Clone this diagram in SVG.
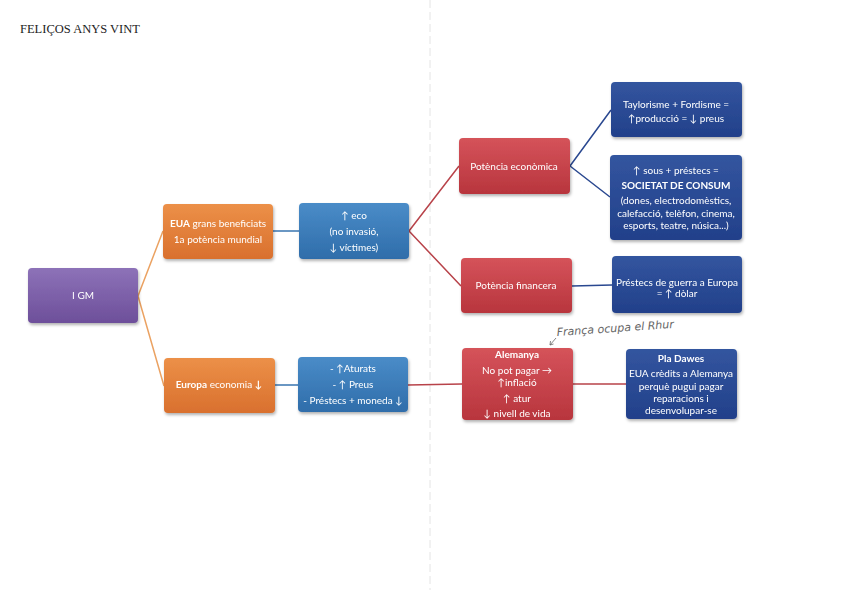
<svg xmlns="http://www.w3.org/2000/svg" width="848" height="590" viewBox="0 0 848 590">
<defs>
<linearGradient id="gPur" x1="0" y1="0" x2="0" y2="1"><stop offset="0" stop-color="#8d72b8"/><stop offset="1" stop-color="#6d4f9a"/></linearGradient>
<linearGradient id="gOr" x1="0" y1="0" x2="0" y2="1"><stop offset="0" stop-color="#ec9048"/><stop offset="1" stop-color="#d9702e"/></linearGradient>
<linearGradient id="gBl" x1="0" y1="0" x2="0" y2="1"><stop offset="0" stop-color="#4a8cc8"/><stop offset="1" stop-color="#2f6daa"/></linearGradient>
<linearGradient id="gRd" x1="0" y1="0" x2="0" y2="1"><stop offset="0" stop-color="#d5535a"/><stop offset="1" stop-color="#b8353d"/></linearGradient>
<linearGradient id="gDb" x1="0" y1="0" x2="0" y2="1"><stop offset="0" stop-color="#33559f"/><stop offset="1" stop-color="#22408a"/></linearGradient>
<filter id="sh" x="-10%" y="-10%" width="125%" height="135%"><feDropShadow dx="1" dy="2" stdDeviation="1.5" flood-color="#000" flood-opacity="0.3"/></filter>
</defs>
<style>
.n{filter:url(#sh)}
.t{font-family:Lato,"Open Sans","DejaVu Sans",sans-serif;font-size:10px;fill:#fff;text-anchor:middle}
.b{font-weight:bold}
.c{fill:none;stroke-width:1.5}
.co{stroke:#eba262}.cb{stroke:#3a76b0}.cr{stroke:#b8434a}.cd{stroke:#2a4890}
.title{font-family:"Liberation Serif",serif;font-size:12.5px;fill:#222}
.hw{font-family:"DejaVu Sans",sans-serif;font-size:11px;font-style:italic;fill:#666;font-weight:300}
</style>
<rect width="848" height="590" fill="#fff"/>
<line x1="430" y1="0" x2="430" y2="590" stroke="#e4e4e4" stroke-width="1" stroke-dasharray="8 4"/>
<text class="title" x="20" y="33">FELIÇOS ANYS VINT</text>

<g id="connectors">
<path class="c co" d="M138,296 L163,231 M138,296 L164,386"/>
<path class="c cb" d="M273,231 L299,231 M275,385 L298,385"/>
<path class="c cr" d="M409,231 L459,166 M409,231 L461,286 M408,385 L462,384 M573,384 L626,384"/>
<path class="c cd" d="M570,166 L611,110 M570,166 L610,197 M572,286 L612,285"/>
</g>

<g id="igm" class="n"><rect x="28" y="268" width="110" height="55" rx="4" fill="url(#gPur)"/>
<text class="t" x="83" y="299">I GM</text></g>

<g id="eua" class="n"><rect x="163" y="204" width="110" height="55" rx="4" fill="url(#gOr)"/>
<text class="t" x="218" y="227"><tspan class="b">EUA</tspan> grans beneficiats</text>
<text class="t" x="218" y="243">1a potència mundial</text></g>

<g id="europa" class="n"><rect x="164" y="358" width="111" height="55" rx="4" fill="url(#gOr)"/>
<text class="t" x="219" y="388"><tspan class="b">Europa</tspan>  economia <tspan class="b">↓</tspan></text></g>

<g id="eco" class="n"><rect x="299" y="203" width="110" height="56" rx="4" fill="url(#gBl)"/>
<text class="t" x="354" y="219">↑ eco</text>
<text class="t" x="354" y="235">(no invasió,</text>
<text class="t" x="354" y="251">↓ víctimes)</text></g>

<g id="aturats" class="n"><rect x="298" y="357" width="110" height="55" rx="4" fill="url(#gBl)"/>
<text class="t" x="353" y="372">- ↑Aturats</text>
<text class="t" x="353" y="388">- ↑ Preus</text>
<text class="t" x="353" y="404">- Préstecs + moneda ↓</text></g>

<g id="pot-eco" class="n"><rect x="459" y="138" width="111" height="56" rx="4" fill="url(#gRd)"/>
<text class="t" x="514" y="170">Potència econòmica</text></g>

<g id="pot-fin" class="n"><rect x="461" y="258" width="111" height="55" rx="4" fill="url(#gRd)"/>
<text class="t" x="516" y="289">Potència financera</text></g>

<g id="alemanya" class="n"><rect x="462" y="348" width="111" height="72" rx="4" fill="url(#gRd)"/>
<text class="t b" x="517" y="358">Alemanya</text>
<text class="t" x="517" y="374">No pot pagar →</text>
<text class="t" x="517" y="386">↑inflació</text>
<text class="t" x="517" y="402">↑ atur</text>
<text class="t" x="517" y="417">↓ nivell de vida</text></g>

<g id="dawes" class="n"><rect x="626" y="349" width="111" height="70" rx="4" fill="url(#gDb)"/>
<text class="t b" x="681" y="362">Pla Dawes</text>
<text class="t" x="681" y="377">EUA crèdits a Alemanya</text>
<text class="t" x="681" y="390">perquè pugui pagar</text>
<text class="t" x="681" y="402">reparacions i</text>
<text class="t" x="681" y="414">desenvolupar-se</text></g>

<g id="taylor" class="n"><rect x="611" y="82" width="131" height="55" rx="4" fill="url(#gDb)"/>
<text class="t" x="676" y="108">Taylorisme + Fordisme =</text>
<text class="t" x="676" y="122">↑producció  = ↓ preus</text></g>

<g id="consum" class="n"><rect x="610" y="155" width="132" height="85" rx="4" fill="url(#gDb)"/>
<text class="t" x="676" y="174">↑ sous + préstecs =</text>
<text class="t b" x="676" y="189">SOCIETAT DE CONSUM</text>
<text class="t" x="676" y="204">(dones, electrodomèstics,</text>
<text class="t" x="676" y="217">calefacció, telèfon, cinema,</text>
<text class="t" x="676" y="229">esports, teatre, núsica...)</text></g>

<g id="prestecs" class="n"><rect x="612" y="256" width="130" height="57" rx="4" fill="url(#gDb)"/>
<text class="t" x="677" y="286">Préstecs de guerra a Europa</text>
<text class="t" x="677" y="297">= ↑ dòlar</text></g>

<g id="nota">
<path d="M556,338 L550,345 M550,345 L550.5,341 M550,345 L553.5,344" fill="none" stroke="#666" stroke-width="0.8"/>
<text class="hw" x="557" y="336" transform="rotate(-4 557 336)">França ocupa el Rhur</text>
</g>
</svg>
